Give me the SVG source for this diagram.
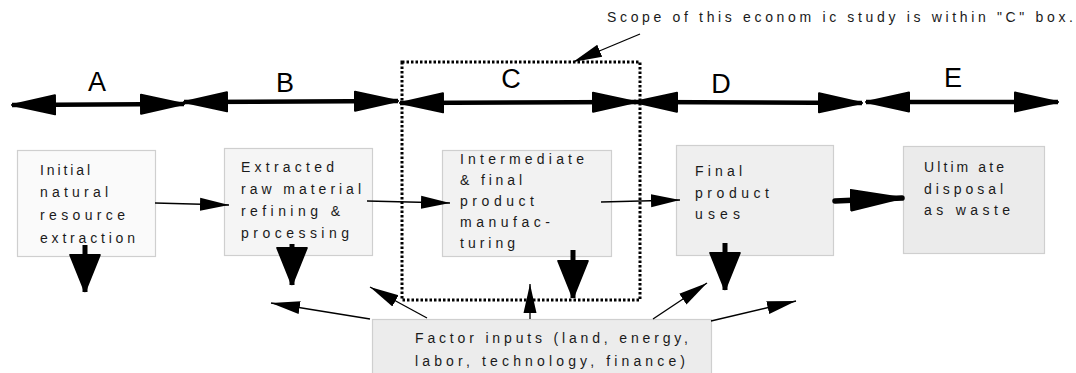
<svg xmlns="http://www.w3.org/2000/svg" width="1076" height="373" viewBox="0 0 1076 373">
<style>
.bx{stroke:#cfcfcf;stroke-width:1.2}
.t{font-family:"Liberation Sans",Arial,sans-serif;font-size:14px;fill:#1a1a1a}
.big{font-family:"Liberation Sans",Arial,sans-serif;font-size:27px;fill:#000}
.thick{stroke:#000;stroke-width:4.5;fill:none}
.thin{stroke:#000;stroke-width:1.3;fill:none}
.down{stroke:#000;stroke-width:5;fill:none}
</style>
<defs>
<marker id="hBig" markerUnits="userSpaceOnUse" viewBox="0 -12 46 24" refX="44" refY="0" markerWidth="46" markerHeight="24" orient="auto-start-reverse"><path d="M1,-9.5 L44,0 L1,9.5 Z" fill="#000" stroke="#000" stroke-width="2" stroke-linejoin="round"/></marker>
<marker id="hThin" markerUnits="userSpaceOnUse" viewBox="0 -8 30 16" refX="29" refY="0" markerWidth="30" markerHeight="16" orient="auto"><path d="M0,-6.5 L29,0 L0,6.5 Z" fill="#000"/></marker>
<marker id="hDown" markerUnits="userSpaceOnUse" viewBox="0 -18 40 36" refX="38" refY="0" markerWidth="40" markerHeight="36" orient="auto"><path d="M1,-14.5 L37,0 L1,14.5 Z" fill="#000" stroke="#000" stroke-width="2.5" stroke-linejoin="round"/></marker>
<marker id="hFat" markerUnits="userSpaceOnUse" viewBox="0 -14 54 28" refX="52" refY="0" markerWidth="54" markerHeight="28" orient="auto"><path d="M1,-10 L51,0 L1,10 Z" fill="#000" stroke="#000" stroke-width="2.5" stroke-linejoin="round"/></marker>
</defs>

<g id="scope-label">
<text class="t" x="607" y="22" font-size="12.5" textLength="466" lengthAdjust="spacing">Scope of this econom ic study is within "C" box.</text>
</g>

<g id="scope-box">
<rect x="402" y="62" width="238" height="238" fill="none" stroke="#000" stroke-width="3" stroke-dasharray="2.5,2"/>
</g>

<g id="stage-labels">
<text class="big" x="97" y="91" text-anchor="middle">A</text>
<text class="big" x="285" y="92" text-anchor="middle">B</text>
<text class="big" x="511" y="88" text-anchor="middle">C</text>
<text class="big" x="721" y="93" text-anchor="middle">D</text>
<text class="big" x="953" y="87" text-anchor="middle">E</text>
</g>

<g id="node-initial">
<rect class="bx" x="17.5" y="150.5" width="138" height="106" fill="#fafafa"/>
<text class="t"><tspan x="40" y="175" textLength="50">Initial</tspan><tspan x="40" y="197" textLength="68">natural</tspan><tspan x="40" y="220" textLength="85">resource</tspan><tspan x="40" y="243" textLength="95">extraction</tspan></text>
</g>

<g id="node-extracted">
<rect class="bx" x="224.5" y="148.5" width="148" height="107" fill="#f5f5f5"/>
<text class="t"><tspan x="241" y="172" textLength="93">Extracted</tspan><tspan x="241" y="194" textLength="120">raw material</tspan><tspan x="241" y="216" textLength="99">refining &amp;</tspan><tspan x="241" y="238" textLength="108">processing</tspan></text>
</g>

<g id="node-intermediate">
<rect class="bx" x="442.5" y="150.5" width="169" height="106" fill="#f2f2f2"/>
<text class="t"><tspan x="460" y="164" textLength="124">Intermediate</tspan><tspan x="460" y="185" textLength="62">&amp; final</tspan><tspan x="460" y="206" textLength="74">product</tspan><tspan x="460" y="227" textLength="90">manufac-</tspan><tspan x="460" y="248" textLength="55">turing</tspan></text>
</g>

<g id="node-final">
<rect class="bx" x="676.5" y="145.5" width="157" height="110" fill="#efefef"/>
<text class="t"><tspan x="695" y="176" textLength="47">Final</tspan><tspan x="695" y="198" textLength="74">product</tspan><tspan x="695" y="219" textLength="45">uses</tspan></text>
</g>

<g id="node-disposal">
<rect class="bx" x="903.5" y="146.5" width="141" height="107" fill="#ebebeb"/>
<text class="t"><tspan x="924" y="172" textLength="80">Ultim ate</tspan><tspan x="924" y="194" textLength="79">disposal</tspan><tspan x="924" y="215" textLength="86">as waste</tspan></text>
</g>

<g id="node-factor">
<rect class="bx" x="372.5" y="319.5" width="339" height="60" fill="#ececec" stroke="#aaa"/>
<text class="t"><tspan x="415" y="343" textLength="273">Factor inputs (land, energy,</tspan><tspan x="415" y="366" textLength="270">labor, technology, finance)</tspan></text>
</g>

<g id="connectors">
<line class="thin" x1="640" y1="34" x2="573" y2="62" marker-end="url(#hThin)"/>
<line class="thick" x1="12" y1="105" x2="184" y2="104" marker-start="url(#hBig)" marker-end="url(#hBig)"/>
<line class="thick" x1="184" y1="102" x2="398" y2="101" marker-start="url(#hBig)" marker-end="url(#hBig)"/>
<line class="thick" x1="400" y1="103" x2="636" y2="102" marker-start="url(#hBig)" marker-end="url(#hBig)"/>
<line class="thick" x1="634" y1="102" x2="862" y2="103" marker-start="url(#hBig)" marker-end="url(#hBig)"/>
<line class="thick" x1="866" y1="102" x2="1058" y2="102" marker-start="url(#hBig)" marker-end="url(#hBig)"/>
<line class="thin" x1="155" y1="203" x2="229" y2="205" marker-end="url(#hThin)"/>
<line class="thin" x1="367" y1="201" x2="450" y2="203" marker-end="url(#hThin)"/>
<line class="thin" x1="601" y1="202" x2="680" y2="200" marker-end="url(#hThin)"/>
<line stroke="#000" stroke-width="5.5" stroke-linecap="round" x1="835" y1="201" x2="902" y2="198" marker-end="url(#hFat)"/>
<line class="down" x1="85" y1="245" x2="85" y2="292" marker-end="url(#hDown)"/>
<line class="down" x1="292" y1="244" x2="292" y2="285" marker-end="url(#hDown)"/>
<line class="down" x1="573" y1="250" x2="573" y2="298" marker-end="url(#hDown)"/>
<line class="down" x1="725" y1="243" x2="725" y2="290" marker-end="url(#hDown)"/>
<line class="thin" x1="370" y1="319" x2="271" y2="303" marker-end="url(#hThin)"/>
<line class="thin" x1="427" y1="318" x2="370" y2="287" marker-end="url(#hThin)"/>
<line class="thin" x1="530" y1="319" x2="530" y2="284" marker-end="url(#hThin)"/>
<line class="thin" x1="653" y1="319" x2="707" y2="283" marker-end="url(#hThin)"/>
<line class="thin" x1="711" y1="321" x2="796" y2="301" marker-end="url(#hThin)"/>
</g>
</svg>
